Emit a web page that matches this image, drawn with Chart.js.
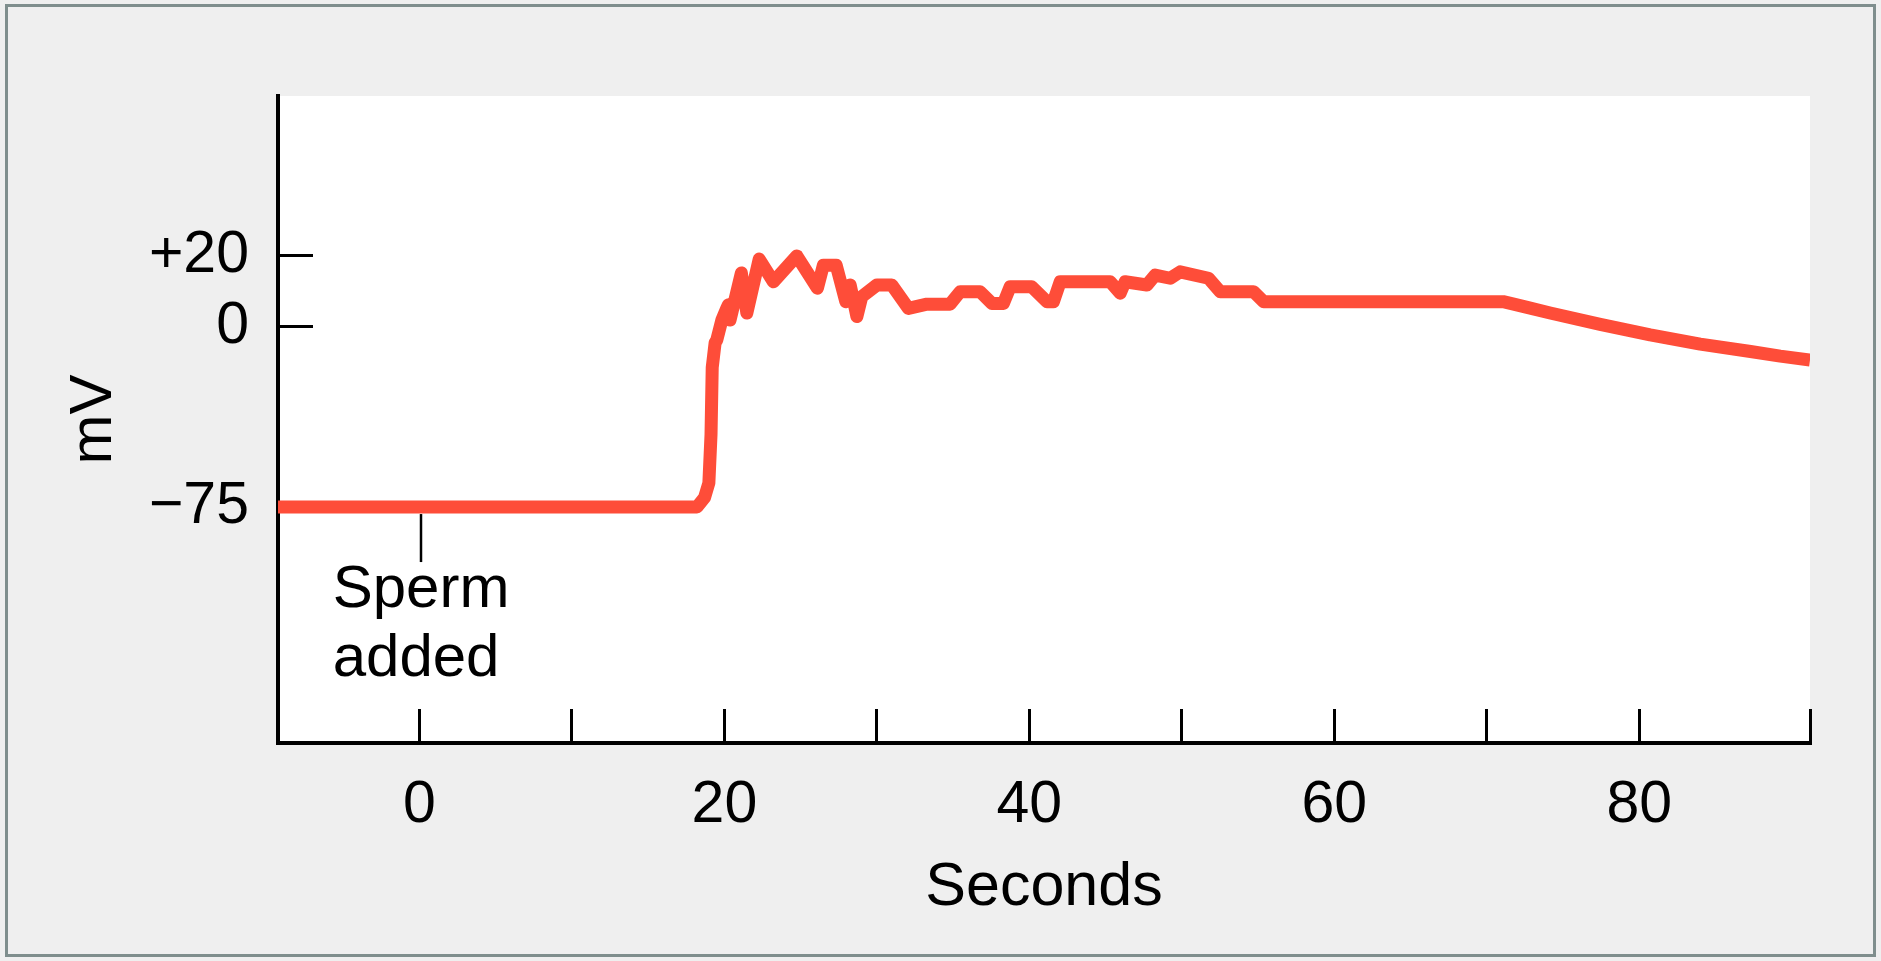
<!DOCTYPE html>
<html>
<head>
<meta charset="utf-8">
<title>Membrane potential after sperm addition</title>
<script src="https://cdn.jsdelivr.net/npm/chart.js@4.4.1/dist/chart.umd.min.js"></script>
<style>
  html, body { margin: 0; padding: 0; background: #efefef; overflow: hidden; }
  #wrap { width: 1881px; height: 961px; position: relative; }
  canvas { display: block; }
</style>
</head>
<body>
<div id="wrap"><canvas id="chart" width="1881" height="961"></canvas></div>
<script>
// Egg membrane potential (mV) against time (s); sperm are added at t = 0.
const timeS = [
  -9.3, 18.2, 18.7, 18.98, 19.12, 19.2, 19.39, 19.5, 19.83, 20.16, 20.26, 20.37,
  21.11, 21.47, 22.28, 23.21, 24.75, 26.1, 26.49, 27.33, 27.96, 28.25, 28.69, 29.01,
  30.0, 30.98, 32.07, 33.28, 34.8, 35.46, 36.77, 37.54, 38.3, 38.74, 40.16, 41.15,
  41.58, 42.02, 45.3, 45.96, 46.28, 47.71, 48.25, 49.24, 49.89, 51.75, 52.52, 54.7,
  55.36, 71.08, 72.65, 74.16, 77.44, 80.72, 84.0, 87.3, 89.25, 91.2
];
const membraneMv = [
  -75, -75, -71, -65, -45, -17, -6.8, -5.6, 1.8, 5.2, 6.1, 1.8,
  15.1, 3.8, 19.0, 12.6, 19.9, 10.8, 17.3, 17.3, 7.0, 11.7, 2.8, 8.4,
  11.7, 11.7, 5.1, 6.3, 6.3, 9.8, 9.8, 6.5, 6.5, 11.2, 11.2, 7.0,
  7.0, 12.6, 12.6, 9.4, 12.6, 11.7, 14.5, 13.6, 15.4, 13.6, 9.8, 9.8,
  7.0, 7.0, 5.4, 3.8, 0.6, -3.5, -7.3, -10.4, -12.3, -13.9
];

// Axis ticks and labels
const xTickValues = [0, 10, 20, 30, 40, 50, 60, 70, 80];
const xLabelValues = [0, 20, 40, 60, 80];
const yTickValues = [-75, 0, 20];
const yTickMarkValues = [0, 20];
const xTitle = 'Seconds';
const yTitle = 'mV';
const eventTime = 0;
const eventLabel = ['Sperm', 'added'];

const FONT = '"Liberation Sans", Arial, Helvetica, sans-serif';
const LINE_RED = '#fe4d39';

// Voltage axis drawn with a compressed negative range (schematic recording scale).
const NEGATIVE_RATIO = 0.679;
class SegmentedScale extends Chart.LinearScale {
  static id = 'segmented';
  static defaults = {};
  _warp(v) { return v >= 0 ? v : v * NEGATIVE_RATIO; }
  _unwarp(u) { return u >= 0 ? u : u / NEGATIVE_RATIO; }
  getPixelForValue(value) {
    if (value === null || value === undefined || isNaN(value)) return NaN;
    const a = this._warp(this.min), b = this._warp(this.max);
    return this.getPixelForDecimal((this._warp(value) - a) / (b - a));
  }
  getValueForPixel(pixel) {
    const a = this._warp(this.min), b = this._warp(this.max);
    return this._unwarp(a + this.getDecimalForPixel(pixel) * (b - a));
  }
}
Chart.register(SegmentedScale);

const framePlugin = {
  id: 'frame',
  beforeDraw(chart) {
    const { ctx, width, height, chartArea: a } = chart;
    ctx.save();
    ctx.fillStyle = '#efefef';
    ctx.fillRect(0, 0, width, height);
    ctx.fillStyle = '#ffffff';
    ctx.fillRect(a.left, a.top, a.right - a.left, a.bottom - a.top);
    ctx.strokeStyle = '#7f8e8d';
    ctx.lineWidth = 3;
    ctx.strokeRect(6.5, 5.5, width - 13, height - 11);
    ctx.restore();
  }
};

const eventPlugin = {
  id: 'eventMarker',
  afterDatasetsDraw(chart) {
    const { ctx, scales: { x, y } } = chart;
    const px = Math.round(x.getPixelForValue(eventTime)) + 2;
    const py = y.getPixelForValue(-75);
    ctx.save();
    ctx.strokeStyle = '#000';
    ctx.lineWidth = 2.5;
    ctx.beginPath();
    ctx.moveTo(px, py + 7);
    ctx.lineTo(px, py + 55);
    ctx.stroke();
    ctx.fillStyle = '#000';
    ctx.font = '60px ' + FONT;
    ctx.textBaseline = 'alphabetic';
    ctx.textAlign = 'left';
    const left = px - ctx.measureText(eventLabel[0]).width / 2;
    ctx.fillText(eventLabel[0], left, py + 100);
    ctx.fillText(eventLabel[1], left, py + 169);
    ctx.restore();
  }
};

new Chart(document.getElementById('chart'), {
  type: 'line',
  data: {
    datasets: [{
      data: timeS.map((t, i) => ({ x: t, y: membraneMv[i] })),
      borderColor: LINE_RED,
      borderWidth: 13,
      borderJoinStyle: 'round',
      borderCapStyle: 'butt',
      pointRadius: 0,
      tension: 0,
      fill: false,
      clip: 0
    }]
  },
  options: {
    responsive: false,
    devicePixelRatio: 1,
    animation: false,
    events: [],
    layout: { autoPadding: false, padding: { top: 96, right: 71, bottom: 0, left: 0 } },
    plugins: { legend: { display: false }, tooltip: { enabled: false }, title: { display: false } },
    scales: {
      x: {
        type: 'linear',
        position: 'bottom',
        min: -9.28,
        max: 91.2,
        bounds: 'data',
        z: 1,
        afterBuildTicks(s) {
          s.ticks = xTickValues.map(v => ({ value: v })).concat([{ value: s.max }]);
        },
        afterFit(s) {
          s.height = 218;
          s.paddingLeft = s.paddingRight = s.paddingTop = s.paddingBottom = 0;
        },
        ticks: {
          autoSkip: false, maxRotation: 0, minRotation: 0, padding: 61,
          color: '#000', font: { size: 59, family: FONT },
          callback: v => (xLabelValues.includes(v) ? String(v) : '')
        },
        grid: { drawOnChartArea: false, drawTicks: true, tickLength: -34, tickWidth: 3, tickColor: '#000' },
        border: { display: true, color: '#000', width: 4 },
        title: { display: true, text: xTitle, color: '#000', font: { size: 61, family: FONT }, padding: { top: 0, bottom: 36 } }
      },
      y: {
        type: 'segmented',
        position: 'left',
        min: -173,
        max: 65,
        bounds: 'data',
        z: 1,
        afterBuildTicks(s) {
          s.ticks = yTickValues.map(v => ({ value: v }));
        },
        afterFit(s) {
          s.width = 278;
          s.paddingLeft = s.paddingRight = s.paddingTop = s.paddingBottom = 0;
        },
        ticks: {
          autoSkip: false, padding: 64,
          color: '#000', font: { size: 59, family: FONT },
          callback: v => (v > 0 ? '+' + v : v < 0 ? '\u2212' + Math.abs(v) : '0')
        },
        grid: {
          drawOnChartArea: false, drawTicks: true, tickLength: -35, tickWidth: 3,
          tickColor: ctx => (ctx.tick && yTickMarkValues.includes(ctx.tick.value) ? '#000' : 'rgba(0,0,0,0)')
        },
        border: { display: true, color: '#000', width: 4 },
        title: { display: true, text: yTitle, color: '#000', font: { size: 60, family: FONT }, padding: { top: 58, bottom: 0 } }
      }
    }
  },
  plugins: [framePlugin, eventPlugin]
});
</script>
</body>
</html>
